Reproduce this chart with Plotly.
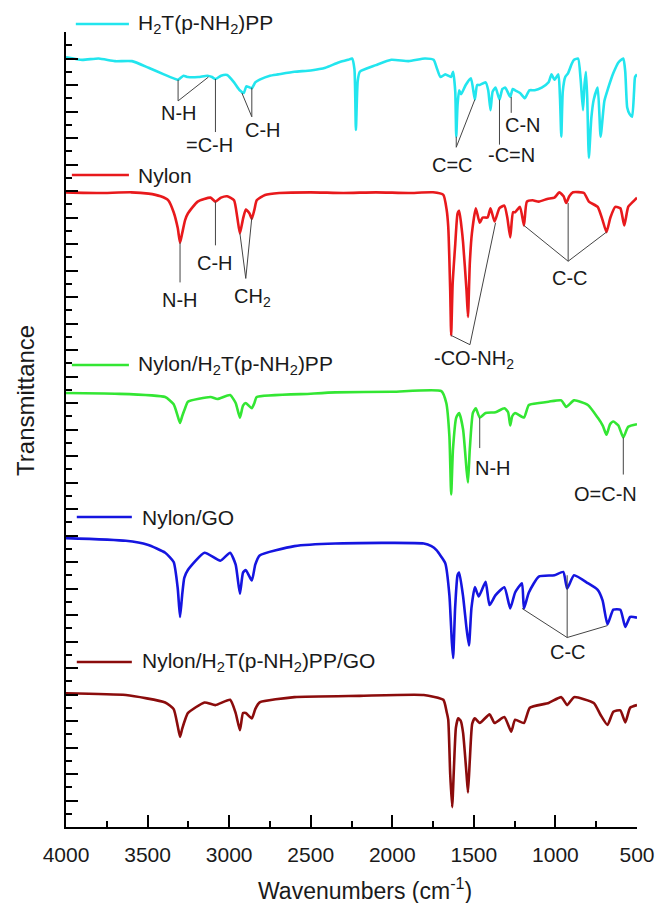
import plotly.graph_objects as go

# ---- FTIR spectra (wavenumber in cm-1, transmittance in offset arbitrary units) ----
wn_porph = [4000, 3900, 3800, 3700, 3596, 3494, 3400, 3340, 3313, 3280,
            3253, 3190, 3133, 3105, 3084, 3050, 3012, 2970, 2935, 2910,
            2895, 2880, 2861, 2840, 2813, 2750, 2700, 2600, 2500, 2410,
            2330, 2270, 2247, 2232, 2223, 2212, 2199, 2100, 2006, 1900,
            1800, 1747, 1725, 1705, 1675, 1640, 1627, 1614, 1608, 1600,
            1590, 1578, 1550, 1518, 1494, 1480, 1464, 1428, 1412, 1398,
            1385, 1367, 1343, 1325, 1307, 1277, 1262, 1247, 1217, 1187,
            1160, 1127, 1084, 1042, 1024, 1006, 982, 972, 964, 955,
            940, 922, 900, 886, 861, 846, 831, 822, 813, 805,
            795, 780, 765, 741, 723, 700, 681, 660, 645, 614,
            584, 572, 560, 545, 530, 518, 512, 500]
t_porph = [58.1, 57.9, 58.0, 57.8, 57.8, 57.3, 56.8, 56.5, 56.4, 56.7,
           56.6, 56.6, 56.7, 56.6, 56.45, 56.7, 56.75, 56.2, 55.6, 55.4,
           55.9, 55.85, 55.75, 56.2, 56.4, 56.7, 56.8, 57.0, 57.1, 57.3,
           57.7, 57.9, 58.0, 57.2, 52.6, 56.3, 57.0, 57.5, 57.9, 57.8,
           58.0, 57.9, 57.2, 56.6, 56.8, 56.6, 57.0, 55.5, 52.1, 54.5,
           55.6, 55.3, 56.0, 56.5, 54.9, 56.0, 56.0, 56.2, 55.6, 54.1,
           55.5, 55.8, 54.9, 55.7, 55.8, 55.1, 55.7, 55.6, 55.4, 55.0,
           55.6, 55.6, 55.8, 56.2, 56.8, 56.4, 56.8, 55.0, 52.1, 55.5,
           56.6, 56.9, 57.6, 57.9, 58.0, 56.5, 54.1, 56.0, 57.0, 55.0,
           50.5, 53.5, 54.9, 55.8, 52.1, 54.8, 55.6, 56.4, 56.9, 57.7,
           58.0, 57.0, 54.3, 53.8, 53.6, 55.5, 56.6, 56.8]

wn_nylon = [4000, 3800, 3600, 3494, 3420, 3373, 3340, 3315, 3301, 3288,
            3270, 3253, 3193, 3114, 3084, 3050, 3012, 2970, 2950, 2934,
            2915, 2898, 2875, 2861, 2845, 2831, 2780, 2693, 2500, 2300,
            2100, 1900, 1750, 1687, 1667, 1657, 1645, 1639, 1630, 1614,
            1600, 1590, 1575, 1566, 1545, 1536, 1525, 1512, 1488, 1464,
            1446, 1416, 1398, 1373, 1343, 1313, 1295, 1277, 1260, 1247,
            1217, 1193, 1175, 1140, 1102, 1050, 1006, 976, 950, 934,
            915, 892, 825, 795, 741, 711, 687, 663, 633, 602,
            578, 554, 524, 500]
t_nylon = [47.9, 47.85, 47.9, 47.8, 47.6, 47.3, 46.4, 45.2, 44.1, 44.8,
           45.8, 46.3, 47.2, 47.5, 47.2, 47.5, 47.6, 47.3, 46.0, 44.8,
           45.9, 46.6, 46.3, 45.9, 46.6, 47.3, 47.7, 47.85, 47.9, 47.85,
           47.9, 47.85, 47.9, 47.7, 46.6, 45.3, 40.5, 37.1, 41.0, 44.0,
           46.3, 46.5, 45.2, 44.1, 40.5, 38.5, 42.5, 44.8, 46.7, 45.6,
           46.0, 46.0, 46.7, 45.7, 46.7, 46.9, 46.0, 44.5, 46.4, 46.4,
           46.8, 45.4, 47.2, 47.3, 47.2, 47.4, 47.5, 47.9, 47.6, 47.1,
           47.6, 47.9, 47.85, 47.2, 46.8, 45.8, 44.9, 46.0, 46.8, 46.7,
           45.4, 46.8, 47.2, 47.5]

wn_nylon_porph = [4000, 3700, 3392, 3340, 3315, 3301, 3288, 3270, 3253, 3114,
                  3072, 2994, 2960, 2934, 2915, 2898, 2861, 2845, 2831, 2500,
                  2349, 2000, 1699, 1669, 1650, 1639, 1628, 1608, 1590, 1566,
                  1545, 1536, 1525, 1506, 1488, 1464, 1428, 1367, 1313, 1290,
                  1277, 1265, 1247, 1193, 1163, 1100, 1042, 964, 934, 886,
                  801, 741, 710, 687, 665, 645, 614, 584, 554, 500]
t_nylon_porph = [32.75, 32.7, 32.45, 31.9, 31.0, 30.5, 31.0, 31.6, 32.1, 32.45,
                 32.3, 32.6, 32.0, 30.9, 31.8, 32.0, 31.6, 32.0, 32.45, 32.7,
                 32.8, 32.85, 32.9, 32.0, 29.5, 25.1, 28.5, 30.9, 31.25, 30.0,
                 27.0, 26.0, 28.5, 31.25, 31.6, 30.9, 31.25, 31.3, 31.6, 31.3,
                 30.3, 31.0, 31.25, 30.9, 31.85, 32.0, 32.1, 32.2, 31.7, 32.2,
                 31.85, 30.9, 30.3, 29.6, 30.4, 30.6, 30.3, 29.4, 30.2, 30.4]

wn_nylon_go = [4000, 3633, 3500, 3392, 3340, 3315, 3301, 3288, 3275, 3253,
               3151, 3054, 2994, 2960, 2934, 2915, 2898, 2861, 2840, 2813,
               2600, 2349, 1807, 1760, 1729, 1700, 1675, 1650, 1635, 1627,
               1615, 1600, 1590, 1566, 1545, 1530, 1515, 1494, 1470, 1428,
               1404, 1367, 1313, 1277, 1247, 1205, 1193, 1163, 1102, 1006,
               952, 928, 886, 801, 741, 711, 681, 645, 602, 572,
               542, 500]
t_nylon_go = [21.8, 21.6, 21.3, 20.7, 20.0, 18.0, 15.85, 17.5, 18.8, 19.4,
              20.7, 20.1, 20.7, 19.8, 17.6, 19.2, 19.4, 18.6, 19.8, 20.5,
              21.2, 21.4, 21.4, 21.2, 20.9, 20.4, 19.9, 17.5, 14.0, 12.75,
              16.5, 19.0, 19.2, 17.4, 15.0, 13.7, 16.5, 18.1, 17.4, 18.5,
              16.75, 17.5, 18.1, 16.5, 17.7, 18.4, 16.5, 17.7, 18.9, 19.0,
              19.25, 18.0, 19.0, 18.4, 17.9, 17.1, 15.3, 16.4, 16.4, 15.1,
              15.85, 15.8]

wn_ternary = [4000, 3633, 3392, 3340, 3315, 3301, 3288, 3270, 3253, 3151,
              3084, 2994, 2960, 2934, 2915, 2898, 2861, 2840, 2813, 2600,
              2200, 1807, 1687, 1667, 1657, 1645, 1633, 1622, 1610, 1596,
              1580, 1566, 1545, 1536, 1525, 1510, 1494, 1464, 1404, 1373,
              1313, 1271, 1247, 1193, 1157, 1042, 964, 928, 886, 765,
              723, 681, 645, 602, 572, 542, 500]
t_ternary = [10.1, 9.96, 9.4, 8.9, 7.6, 6.8, 7.4, 8.1, 8.6, 9.4,
             9.2, 9.6, 8.6, 7.3, 8.6, 8.6, 8.2, 8.9, 9.4, 9.8,
             9.9, 9.96, 9.6, 8.7, 8.1, 4.0, 1.5, 4.5, 7.5, 8.2,
             8.0, 7.1, 4.0, 2.6, 5.0, 7.8, 8.2, 7.85, 8.5, 7.85,
             8.3, 7.2, 8.1, 7.85, 9.0, 9.36, 9.8, 9.2, 9.8, 9.36,
             8.45, 7.7, 8.7, 8.8, 7.9, 9.0, 9.2]

series_names = ["H<sub>2</sub>T(p-NH<sub>2</sub>)PP",
                "Nylon",
                "Nylon/H<sub>2</sub>T(p-NH<sub>2</sub>)PP",
                "Nylon/GO",
                "Nylon/H<sub>2</sub>T(p-NH<sub>2</sub>)PP/GO"]
series_x = [wn_porph, wn_nylon, wn_nylon_porph, wn_nylon_go, wn_ternary]
series_y = [t_porph, t_nylon, t_nylon_porph, t_nylon_go, t_ternary]
series_colors = ["#22E5EE", "#E8191C", "#33E633", "#1515E0", "#8B0C0C"]

# band assignments: (label, label wn, label T, joint wn, joint T, [(end wn, end T), ...])
band_labels = [
    ("N-H", 3307, 53.9, 3313, 54.8, [(3313, 56.4), (3127, 56.6)]),
    ("=C-H", 3120, 51.5, 3084, 52.45, [(3084, 56.45)]),
    ("C-H", 2795, 52.6, 2861, 53.6, [(2922, 55.4), (2861, 55.8)]),
    ("C=C", 1633, 50.0, 1608, 51.3, [(1608, 52.1), (1494, 54.9)]),
    ("-C=N", 1271, 50.7, 1343, 51.5, [(1343, 54.9)]),
    ("C-N", 1199, 53.0, 1271, 53.9, [(1271, 55.1)]),
    ("N-H", 3301, 39.8, 3301, 41.1, [(3301, 44.1)]),
    ("C-H", 3084, 42.6, 3084, 43.9, [(3084, 47.2)]),
    ("CH<sub>2</sub>", 2855, 40.0, 2898, 41.4, [(2934, 44.8), (2861, 46.0)]),
    ("-CO-NH<sub>2</sub>", 1500, 35.25, 1524, 36.4, [(1639, 37.1), (1367, 45.6)]),
    ("C-C", 910, 41.4, 922, 42.7, [(1193, 45.4), (922, 47.1), (687, 44.9)]),
    ("N-H", 1380, 27.1, 1464, 28.6, [(1464, 30.9)]),
    ("O=C-N", 693, 25.1, 584, 26.6, [(584, 29.4)]),
    ("C-C", 922, 13.2, 928, 14.3, [(1205, 16.5), (928, 19.0), (681, 15.2)]),
]

FONT = "Arial, Liberation Sans, sans-serif"
INK = "#1a1a1a"

fig = go.Figure()
for name, xs, ys, col in zip(series_names, series_x, series_y, series_colors):
    fig.add_trace(go.Scatter(x=xs, y=ys, mode="lines", name=name,
                             line=dict(color=col, width=2.6, shape="spline", smoothing=0.5),
                             showlegend=False, hoverinfo="skip"))

shapes = []
annotations = []

# pointer lines and band labels
for text, lx, ly, jx, jy, ends in band_labels:
    for ex, ey in ends:
        shapes.append(dict(type="line", xref="x", yref="y", x0=jx, y0=jy, x1=ex, y1=ey,
                           line=dict(color="#444", width=1)))
    annotations.append(dict(x=lx, y=ly, xref="x", yref="y", text=text, showarrow=False,
                            xanchor="center", yanchor="middle",
                            font=dict(family=FONT, size=20, color=INK)))

# per-curve key: short line sample followed by the sample name (paper coords)
key_pos = [(0.0172, 0.1102, 0.1222, 1.0101),
           (0.0103, 0.1102, 0.1222, 0.8201),
           (0.0103, 0.1102, 0.1222, 0.5811),
           (0.0189, 0.1153, 0.1291, 0.3899),
           (0.0189, 0.1153, 0.1291, 0.2075)]
for name, col, (x0, x1, tx, yy) in zip(series_names, series_colors, key_pos):
    shapes.append(dict(type="line", xref="paper", yref="paper", x0=x0, x1=x1, y0=yy, y1=yy,
                       line=dict(color=col, width=2.6)))
    annotations.append(dict(x=tx, y=yy, xref="paper", yref="paper", text=name, showarrow=False,
                            xanchor="left", yanchor="middle",
                            font=dict(family=FONT, size=21, color=INK)))

# axis titles
annotations.append(dict(x=-0.072, y=0.537, xref="paper", yref="paper", text="Transmittance",
                        textangle=-90, showarrow=False, xanchor="center", yanchor="middle",
                        font=dict(family=FONT, size=24, color=INK)))
annotations.append(dict(x=0.523, y=-0.078, xref="paper", yref="paper",
                        text="Wavenumbers (cm<sup>-1</sup>)", showarrow=False,
                        xanchor="center", yanchor="middle",
                        font=dict(family=FONT, size=23, color=INK)))

fig.update_layout(
    width=667, height=903,
    margin=dict(l=66, r=20, t=32, b=76),
    paper_bgcolor="white", plot_bgcolor="white",
    shapes=shapes, annotations=annotations,
    font=dict(family=FONT, color=INK),
)
fig.update_xaxes(
    range=[4000, 500], tickmode="linear", tick0=0, dtick=500,
    ticks="inside", ticklen=12, tickwidth=2, tickcolor="black",
    minor=dict(dtick=250, ticks="inside", ticklen=6, tickwidth=2, tickcolor="black"),
    showline=True, linewidth=2, linecolor="black", mirror=False,
    showgrid=False, zeroline=False, ticklabelstandoff=8,
    tickfont=dict(family=FONT, size=21, color=INK),
)
fig.update_yaxes(
    range=[0, 60], tickmode="linear", tick0=0, dtick=2,
    ticks="inside", ticklen=12, tickwidth=2, tickcolor="black",
    minor=dict(dtick=1, ticks="inside", ticklen=6, tickwidth=2, tickcolor="black"),
    showline=True, linewidth=2, linecolor="black", mirror=False,
    showgrid=False, zeroline=False, showticklabels=False,
)

fig.write_html("out.html")
